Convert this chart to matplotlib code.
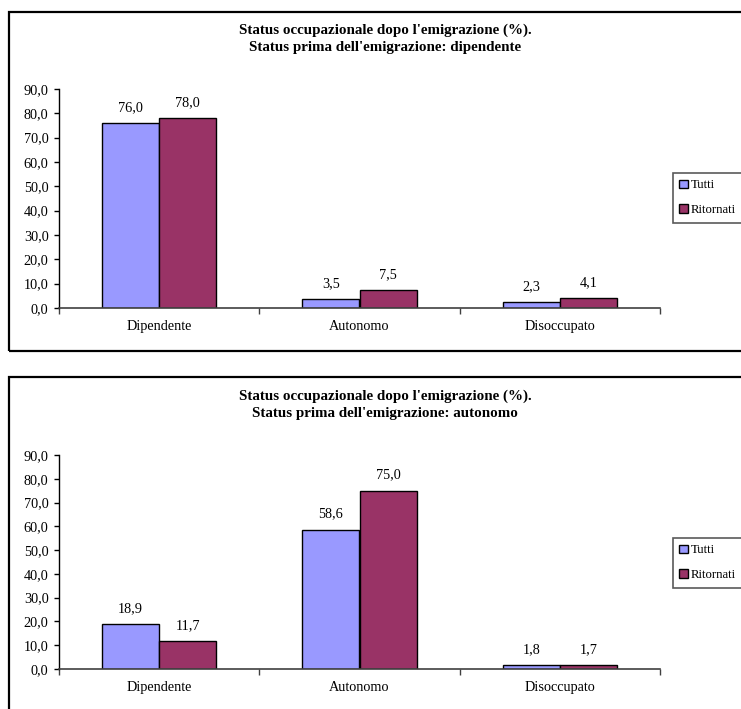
import matplotlib
matplotlib.use("Agg")
import matplotlib.pyplot as plt
from matplotlib.patches import Rectangle
import numpy as np

plt.rcParams['font.family'] = ['Liberation Serif', 'DejaVu Serif']

categories = ['Dipendente', 'Autonomo', 'Disoccupato']
series_names = ['Tutti', 'Ritornati']

dip_tutti = [76.0, 3.5, 2.3]
dip_ritornati = [78.0, 7.5, 4.1]

aut_tutti = [18.9, 58.6, 1.8]
aut_ritornati = [11.7, 75.0, 1.7]

y_ticks = [0, 10, 20, 30, 40, 50, 60, 70, 80, 90]
y_tick_labels = ['0,0', '10,0', '20,0', '30,0', '40,0', '50,0', '60,0', '70,0', '80,0', '90,0']

titles = [
    "Status occupazionale dopo l'emigrazione (%).\nStatus prima dell'emigrazione: dipendente",
    "Status occupazionale dopo l'emigrazione (%).\nStatus prima dell'emigrazione: autonomo",
]

colors = ['#9999FF', '#993366']

W, H = 741, 709
fig = plt.figure(figsize=(W / 100, H / 100), dpi=100)

FS = 10.3


def fx(px):
    return px / W


def fy(py):
    return 1 - py / H


def fmt(v):
    return f"{v:.1f}".replace('.', ',')


panels = [
    # frame top/bottom, axes top/bottom, title y, legend top
    dict(frame=(12, 351), axes=(89, 308), title=39, legend=173,
         data=(dip_tutti, dip_ritornati), title_text=titles[0]),
    dict(frame=(377, 712), axes=(455, 669), title=405, legend=538,
         data=(aut_tutti, aut_ritornati), title_text=titles[1]),
]

ax_left, ax_right = 59, 660
bw = 1 / 3.5
x = np.arange(len(categories))

for p in panels:
    ft, fb = p['frame']
    fig.patches.append(Rectangle((fx(9), fy(fb)), fx(745 - 9), (fb - ft) / H,
                                 transform=fig.transFigure, fill=False,
                                 edgecolor='black', linewidth=1.6))
    at, ab = p['axes']
    ax = fig.add_axes([fx(ax_left), fy(ab), fx(ax_right - ax_left), (ab - at) / H])
    handles = []
    for i, (vals, name, c) in enumerate(zip(p['data'], series_names, colors)):
        off = (i - 0.5) * bw
        bars = ax.bar(x + off, vals, width=bw, color=c, edgecolor='black',
                      linewidth=1.0, label=name)
        handles.append(bars)
        for xi, v in zip(x + off, vals):
            ax.annotate(fmt(v), (xi, v), xytext=(0, 6.5), textcoords='offset points',
                        ha='center', va='bottom', fontsize=FS)
    ax.set_xlim(-0.5, len(categories) - 0.5)
    ax.set_ylim(0, 90)
    ax.set_yticks(y_ticks)
    ax.set_yticklabels(y_tick_labels, fontsize=FS)
    ax.tick_params(axis='y', length=3.5, width=1, pad=4, direction='out')
    ax.set_xticks(np.arange(len(categories) + 1) - 0.5)
    ax.set_xticklabels([])
    ax.tick_params(axis='x', which='major', length=4.5, width=1, direction='out',
                   color='#404040')
    ax.set_xticks(x, minor=True)
    ax.set_xticklabels(categories, minor=True, fontsize=FS)
    ax.tick_params(axis='x', which='minor', length=0, pad=8.5)
    for s in ('top', 'right'):
        ax.spines[s].set_visible(False)
    ax.spines['left'].set_linewidth(1.0)
    ax.spines['bottom'].set_linewidth(1.2)
    ax.spines['bottom'].set_color('#404040')
    ax.patch.set_alpha(0)

    fig.text(fx(385), fy(p['title']), p['title_text'], ha='center', va='center',
             fontsize=10.8, fontweight='bold', linespacing=1.4)

    leg = fig.legend(handles=handles, labels=series_names, loc='upper left',
                     bbox_to_anchor=(fx(673), fy(p['legend'])),
                     bbox_transform=fig.transFigure, fontsize=9.2,
                     frameon=True, fancybox=False, handlelength=0.65,
                     handleheight=0.65, handletextpad=0.25, labelspacing=1.0,
                     borderpad=0.5, borderaxespad=0)
    leg.get_frame().set_edgecolor('#303030')
    leg.get_frame().set_linewidth(1.2)

fig.savefig('out.png', dpi=100, facecolor='white')
